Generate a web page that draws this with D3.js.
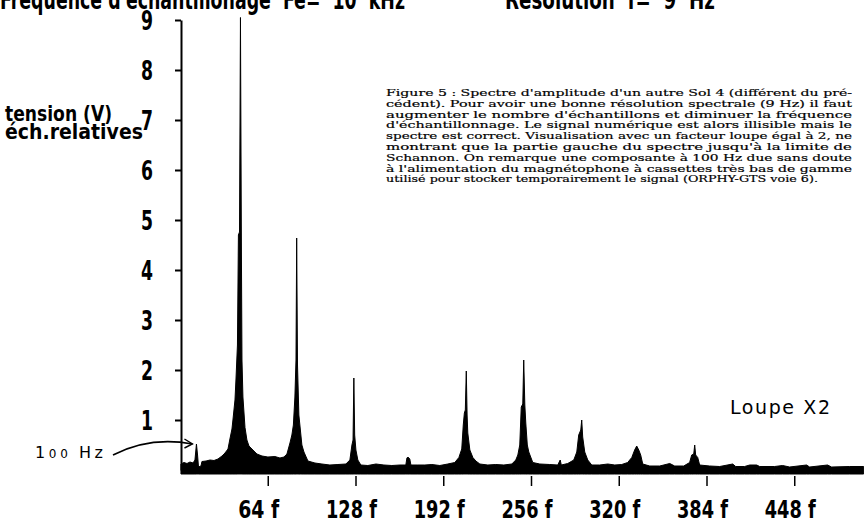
<!DOCTYPE html>
<html>
<head>
<meta charset="utf-8">
<script src="https://cdn.jsdelivr.net/npm/d3@7"></script>
<style>
body{margin:0;background:#fff;}
svg{display:block;}
</style>
</head>
<body>
<div class="chart"></div>
<script>
let width = 864;
let height = 523;

let freqBins = [0.7,2.9,5.1,7.3,9.5,10.9,12.0,12.8,13.5,15.3,16.0,19.0,21.9,24.8,27.7,30.6,32.8,35.0,36.4,37.9,
  38.6,40.1,40.8,41.9,42.6,43.4,44.1,44.8,45.2,45.9,47.4,48.8,50.3,53.2,56.1,59.8,64.1,69.2,72.9,75.8,
  78.0,80.2,81.6,82.7,83.8,84.6,85.1,85.7,86.7,87.8,88.9,90.4,93.3,98.4,103.5,109.3,115.2,121.0,123.9,125.4,
  126.2,126.8,127.4,128.3,129.7,131.9,137.0,142.9,148.7,154.5,160.4,164.7,165.5,166.2,167.6,168.4,173.5,178.6,183.7,189.5,
  195.3,200.4,203.4,205.5,206.6,207.4,208.1,208.8,209.4,209.9,211.4,213.6,215.8,218.7,224.5,230.3,236.2,242.0,244.9,246.4,
  247.8,248.9,250.0,250.7,251.5,252.2,253.3,254.4,257.3,262.4,269.7,275.5,277.3,278.1,282.8,287.2,289.4,290.8,292.3,293.0,
  293.7,295.2,297.4,300.3,306.1,312.0,317.1,322.2,326.5,329.5,331.6,333.1,334.6,336.0,337.5,342.6,349.9,357.2,360.8,367.4,
  371.7,373.2,374.7,375.4,376.1,377.6,379.0,386.3,393.6,403.1,405.3,411.8,415.5,420.6,422.8,433.7,439.5,444.6,457.0,459.2,
  472.3,475.2,488.4,498.6];
let amplitudes = [0.12,0.15,0.13,0.16,0.14,0.2,0.52,0.3,0.06,0.08,0.17,0.18,0.2,0.19,0.22,0.28,0.34,0.42,0.62,0.82,
  1.0,1.4,1.8,2.5,4.7,4.76,9.05,4.3,2.2,1.46,0.85,0.6,0.48,0.4,0.32,0.28,0.26,0.27,0.24,0.26,
  0.32,0.54,0.7,0.9,1.46,2.2,4.64,2.1,1.1,0.8,0.5,0.36,0.18,0.14,0.12,0.1,0.11,0.12,0.2,0.5,
  0.6,1.84,0.7,0.4,0.2,0.1,0.09,0.12,0.1,0.09,0.1,0.1,0.24,0.26,0.22,0.1,0.1,0.1,0.11,0.09,
  0.12,0.15,0.25,0.42,0.9,1.14,1.2,1.98,1.1,0.74,0.4,0.25,0.18,0.12,0.1,0.11,0.1,0.12,0.2,0.3,
  0.5,1.26,1.32,2.2,1.3,0.94,0.5,0.36,0.15,0.12,0.11,0.1,0.2,0.1,0.13,0.2,0.36,0.7,0.8,1.0,
  0.66,0.36,0.2,0.1,0.1,0.12,0.1,0.11,0.15,0.25,0.4,0.48,0.4,0.3,0.12,0.08,0.08,0.13,0.08,0.08,
  0.15,0.3,0.32,0.5,0.3,0.25,0.1,0.08,0.07,0.12,0.07,0.07,0.1,0.1,0.07,0.07,0.09,0.06,0.1,0.06,
  0.1,0.06,0.07,0.07];

let yTicks = [1,2,3,4,5,6,7,8,9];
let xTicks = [64,128,192,256,320,384,448];

let topTitleLeft = "Fréquence d'échantillonage  Fe=  10  kHz";
let topTitleRight = "Résolution  f=  9  Hz";
let yTitle = ['tension (V)', 'éch.relatives'];
let captionLines = [
  "Figure 5 : Spectre d'amplitude d'un autre Sol 4 (différent du pré-",
  "cédent). Pour avoir une bonne résolution spectrale (9 Hz) il faut",
  "augmenter le nombre d'échantillons et diminuer la fréquence",
  "d'échantillonnage. Le signal numérique est alors illisible mais le",
  "spectre est correct. Visualisation avec un facteur loupe égal à 2, ne",
  "montrant que la partie gauche du spectre jusqu'à la limite de",
  "Schannon. On remarque une composante à 100 Hz due sans doute",
  "à l'alimentation du magnétophone à cassettes très bas de gamme",
  "utilisé pour stocker temporairement le signal (ORPHY-GTS voie 6)."
];

let boldFont = "'Liberation Sans Narrow','DejaVu Sans',sans-serif";
let handFont = "'DejaVu Sans',sans-serif";

let svg = d3.select('.chart')
            .append('svg')
            .attr('width', width)
            .attr('height', height);

let x = d3.scaleLinear().domain([0, 512]).range([180, 882]);
let y = d3.scaleLinear().domain([0, 9]).range([470, 20]);

// spectrum as a filled black area
let area = d3.area()
             .x(d => x(d[0]))
             .y0(y(-0.08))
             .y1(d => y(d[1]));
svg.append('path')
   .datum(d3.zip(freqBins, amplitudes))
   .attr('d', area)
   .attr('fill', '#000')
   .attr('stroke', '#000')
   .attr('stroke-width', 1)
   .attr('stroke-linejoin', 'round');

// y axis
let yAxis = d3.axisLeft(y).tickValues(yTicks).tickSize(6).tickSizeOuter(0).tickPadding(22);
let gy = svg.append('g')
            .attr('transform', 'translate(' + (x(0) + 1) + ',0)')
            .call(yAxis);
gy.select('.domain').attr('stroke-width', 2);
gy.selectAll('.tick line').attr('stroke-width', 2);
gy.selectAll('.tick text')
  .attr('dy', '0.34em')
  .attr('font-family', boldFont)
  .attr('font-weight', 'bold')
  .attr('font-size', 27)
  .attr('textLength', 12)
  .attr('lengthAdjust', 'spacingAndGlyphs')
  .attr('fill', '#000');

// x axis (ticks only, below the spectrum)
let xAxis = d3.axisBottom(x).tickValues(xTicks).tickSize(10).tickFormat(d => d + ' f');
let gx = svg.append('g')
            .attr('transform', 'translate(0,' + (y(0) + 6) + ')')
            .call(xAxis);
gx.select('.domain').remove();
gx.selectAll('.tick line').attr('stroke-width', 1.5);
gx.selectAll('.tick text')
  .attr('y', 42)
  .attr('dy', 0)
  .attr('x', -30)
  .style('text-anchor', 'start')
  .attr('font-family', boldFont)
  .attr('font-weight', 'bold')
  .attr('font-size', 24)
  .attr('textLength', d => String(d).length * 10 + 21)
  .attr('lengthAdjust', 'spacingAndGlyphs')
  .attr('fill', '#000');

// top line, cut by the scan
svg.append('text')
   .attr('x', 0).attr('y', 9)
   .style('white-space', 'pre')
   .attr('font-family', boldFont).attr('font-weight', 'bold').attr('font-size', 26)
   .attr('textLength', 405).attr('lengthAdjust', 'spacingAndGlyphs')
   .text(topTitleLeft);
svg.append('text')
   .attr('x', 505).attr('y', 9)
   .style('white-space', 'pre')
   .attr('font-family', boldFont).attr('font-weight', 'bold').attr('font-size', 26)
   .attr('textLength', 210).attr('lengthAdjust', 'spacingAndGlyphs')
   .text(topTitleRight);

// y title
svg.selectAll('.ytitle')
   .data(yTitle)
   .enter()
   .append('text')
   .attr('class', 'ytitle')
   .attr('x', 5)
   .attr('y', (d, i) => 121 + i * 18)
   .attr('font-family', boldFont).attr('font-weight', 'bold').attr('font-size', 22)
   .attr('textLength', (d, i) => i === 0 ? 107 : 138)
   .attr('lengthAdjust', 'spacingAndGlyphs')
   .text(d => d);

// caption block, justified
svg.selectAll('.caption')
   .data(captionLines)
   .enter()
   .append('text')
   .attr('class', 'caption')
   .attr('x', 386)
   .attr('y', (d, i) => 96 + i * 10.8)
   .attr('font-family', "'DejaVu Serif',serif")
   .attr('font-size', 9.6)
   .attr('stroke', '#000')
   .attr('stroke-width', 0.2)
   .attr('textLength', (d, i) => i === captionLines.length - 1 ? 432 : 466)
   .attr('lengthAdjust', 'spacingAndGlyphs')
   .text(d => d);

// handwritten notes
svg.append('text')
   .attr('x', 730).attr('y', 414)
   .attr('font-family', handFont).attr('font-size', 19)
   .attr('textLength', 100).attr('lengthAdjust', 'spacing')
   .text('Loupe X2');

let note = svg.append('text')
   .attr('x', 35).attr('y', 458)
   .attr('font-family', handFont).attr('font-size', 16)
   .attr('textLength', 68).attr('lengthAdjust', 'spacing');
note.append('tspan').text('1');
note.append('tspan').attr('font-size', 12).text('00 ');
note.append('tspan').text('Hz');

// arrow to the 100 Hz line
let tipX = x(12) - 4, tipY = y(0.52);
svg.append('path')
   .attr('d', 'M113,455 Q150,436 ' + tipX + ',' + tipY)
   .attr('fill', 'none').attr('stroke', '#000').attr('stroke-width', 1.6);
svg.append('path')
   .attr('d', 'M' + (tipX - 8) + ',' + (tipY - 5) + ' L' + tipX + ',' + tipY + ' L' + (tipX - 8) + ',' + (tipY + 4))
   .attr('fill', 'none').attr('stroke', '#000').attr('stroke-width', 1.4);
</script>
</body>
</html>
